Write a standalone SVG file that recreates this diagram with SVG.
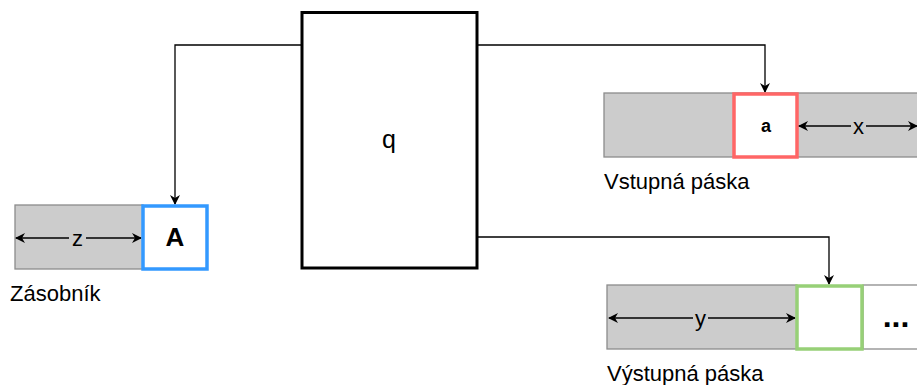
<svg xmlns="http://www.w3.org/2000/svg" width="917" height="385" viewBox="0 0 917 385">
  <style>
    .tape { fill: #cccccc; stroke: #8c8c8c; stroke-width: 1.3; }
    .cell { fill: #ffffff; stroke-width: 3.5; }
    .edge { fill: none; stroke: #000000; stroke-width: 1.3; }
    .dim { fill: none; stroke: #000000; stroke-width: 1.3; }
    .lbl { font-family: "Liberation Sans", Arial, sans-serif; font-size: 22px; fill: #000000; }
    .bold { font-weight: bold; }
    .mid { text-anchor: middle; }
  </style>
  <defs>
    <marker id="arrow" markerWidth="10" markerHeight="10" refX="9" refY="5" orient="auto" markerUnits="userSpaceOnUse">
      <path d="M0,0 L10,5 L0,10 L3,5 Z" fill="#000000"/>
    </marker>
    <marker id="arrowStart" markerWidth="10" markerHeight="10" refX="1" refY="5" orient="auto" markerUnits="userSpaceOnUse">
      <path d="M10,0 L0,5 L10,10 L7,5 Z" fill="#000000"/>
    </marker>
  </defs>

  <!-- connectors from the control unit -->
  <g id="connectors">
    <path class="edge" d="M302,45 H175 V204" marker-end="url(#arrow)"/>
    <path class="edge" d="M477,45 H765 V92" marker-end="url(#arrow)"/>
    <path class="edge" d="M477,237 H829 V284" marker-end="url(#arrow)"/>
  </g>

  <!-- control unit -->
  <g id="q">
    <rect x="302" y="12.5" width="175" height="255.5" fill="#ffffff" stroke="#000000" stroke-width="3"/>
    <text class="lbl mid" x="389" y="148" style="font-size:25px">q</text>
  </g>

  <!-- stack -->
  <g id="stack">
    <rect class="tape" x="15" y="205" width="128" height="64"/>
    <line class="dim" x1="16" y1="238" x2="69" y2="238" marker-start="url(#arrowStart)"/>
    <line class="dim" x1="86" y1="238" x2="141" y2="238" marker-end="url(#arrow)"/>
    <text class="lbl mid" x="77.5" y="246">z</text>
    <rect class="cell" x="143" y="206" width="64" height="63" stroke="#3399ff"/>
    <text class="lbl bold mid" x="175" y="246" style="font-size:26px">A</text>
    <text class="lbl" x="10" y="301">Zásobník</text>
  </g>

  <!-- input tape -->
  <g id="input-tape">
    <rect class="tape" x="604" y="93" width="320" height="64"/>
    <rect class="cell" x="734" y="94" width="63" height="63" stroke="#ff6666"/>
    <text class="lbl bold mid" x="766" y="132" style="font-size:18px">a</text>
    <line class="dim" x1="799" y1="126" x2="851" y2="126" marker-start="url(#arrowStart)"/>
    <line class="dim" x1="866" y1="126" x2="917" y2="126" marker-end="url(#arrow)"/>
    <text class="lbl mid" x="858.5" y="134">x</text>
    <text class="lbl" x="604" y="189">Vstupná páska</text>
  </g>

  <!-- output tape -->
  <g id="output-tape">
    <rect class="tape" x="607" y="285" width="190" height="64"/>
    <rect x="863" y="285" width="60" height="64" fill="#ffffff" stroke="#8c8c8c" stroke-width="1.3"/>
    <line class="dim" x1="609" y1="318" x2="693" y2="318" marker-start="url(#arrowStart)"/>
    <line class="dim" x1="708" y1="318" x2="795" y2="318" marker-end="url(#arrow)"/>
    <text class="lbl mid" x="700.5" y="326">y</text>
    <rect class="cell" x="797" y="286" width="65" height="63" stroke="#97d077"/>
    <text class="lbl bold mid" x="896" y="327" style="font-size:32px">...</text>
    <text class="lbl" x="607" y="381">Výstupná páska</text>
  </g>
</svg>
